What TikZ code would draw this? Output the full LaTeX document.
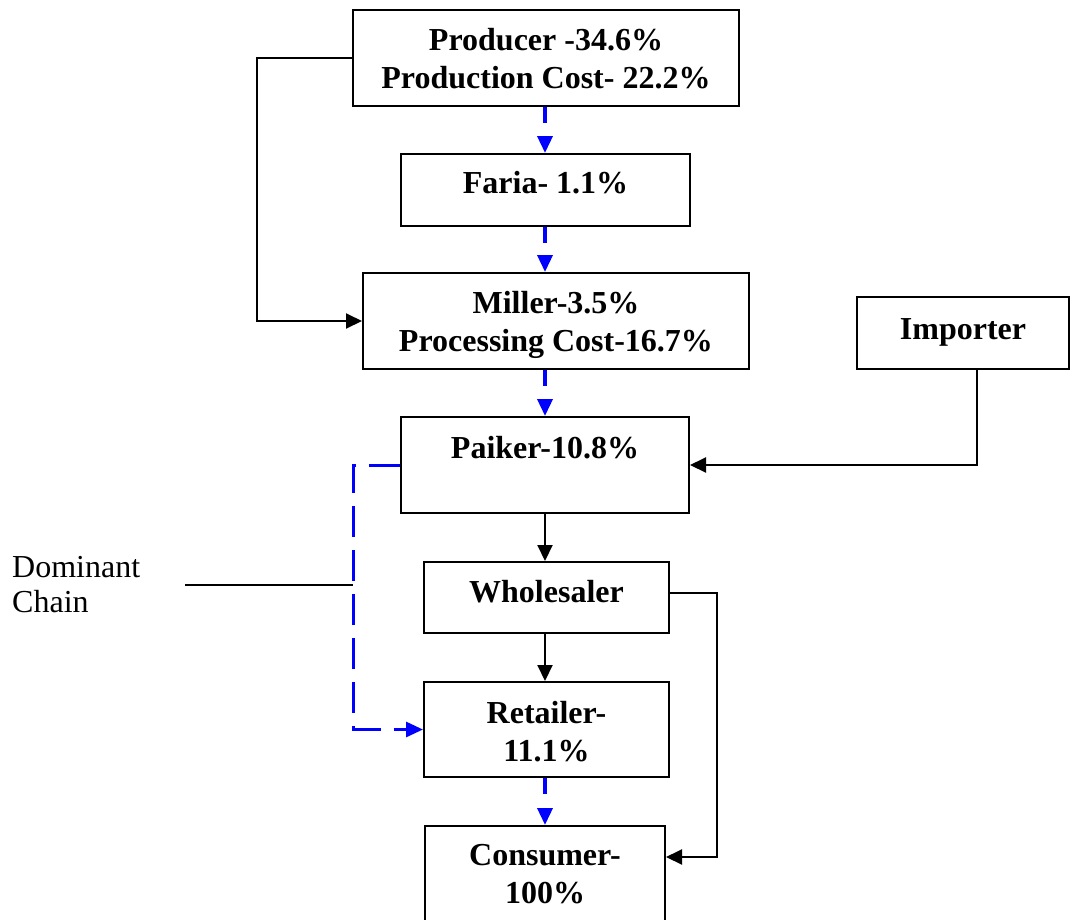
\documentclass[tikz,border=0pt]{standalone}
\usepackage{fontspec}
\setmainfont{Liberation Serif}
\usetikzlibrary{arrows.meta}
\definecolor{chainblue}{RGB}{0,0,255}
\tikzset{
  box/.style={draw=black, line width=2pt, rectangle, inner sep=0pt},
  lbl/.style={font=\fontsize{32}{38}\selectfont\bfseries, align=center, inner sep=0pt, anchor=base},
  note/.style={font=\fontsize{32}{35}\selectfont, align=left, inner sep=0pt, anchor=base west},
  flow/.style={draw=black, line width=2pt, -{Triangle[length=16pt,width=15pt]}},
  link/.style={draw=black, line width=1.6pt},
  chain/.style={draw=chainblue, line width=3.5pt, dash pattern=on 16pt off 15pt, -{Triangle[length=17pt,width=15pt]}},
  longchain/.style={draw=chainblue, line width=3pt, dash pattern=on 31pt off 13pt, -{Triangle[length=17pt,width=15pt]}},
}
\begin{document}
\begin{tikzpicture}[x=1pt,y=-1pt]
\useasboundingbox (0,0) rectangle (1071,919);

% boxes of the marketing chain
\node[box, minimum width=386pt, minimum height=96pt] (prod)   at (546,58)    {};
\node[box, minimum width=289pt, minimum height=72pt] (faria)  at (545.5,190) {};
\node[box, minimum width=386pt, minimum height=96pt] (miller) at (556,321)   {};
\node[box, minimum width=212pt, minimum height=72pt] (imp)    at (963,333)   {};
\node[box, minimum width=288pt, minimum height=96pt] (paiker) at (545,465)   {};
\node[box, minimum width=245pt, minimum height=71pt] (whole)  at (546.5,597.5) {};
\node[box, minimum width=245pt, minimum height=95pt] (retail) at (546.5,729.5) {};
\node[box, minimum width=240pt, minimum height=96pt] (cons)   at (545,874)   {};

% box texts (base anchor sits on the last line)
\node[lbl] (prodtxt)   at (546,88)    {Producer -34.6\%\\Production Cost- 22.2\%};
\node[lbl] (fariatxt)  at (545.5,193) {Faria- 1.1\%};
\node[lbl] (millertxt) at (556,351)   {Miller-3.5\%\\Processing Cost-16.7\%};
\node[lbl] (imptxt)    at (963,339)   {Importer};
\node[lbl] (paikertxt) at (545,458)   {Paiker-10.8\%};
\node[lbl] (wholetxt)  at (546.5,602) {Wholesaler};
\node[lbl] (retailtxt) at (546.5,761) {Retailer-\\11.1\%};
\node[lbl] (constxt)   at (545,903)   {Consumer-\\100\%};

% side note
\node[note] (note) at (12,612) {Dominant\\Chain};

% helper coordinates
\coordinate (axis)    at (545,0);
\coordinate (bypass)  at (257,0);
\coordinate (impdrop) at (977,0);
\coordinate (side)    at (717,0);
\coordinate (loop)    at (353,0);
\coordinate (noteend) at (185,585);
\coordinate (notetip) at (353,585);

% dominant chain (blue dashed)
\draw[chain] (prod.south -| axis)   -- (faria.north -| axis);
\draw[chain] (faria.south -| axis)  -- (miller.north -| axis);
\draw[chain] (miller.south -| axis) -- (paiker.north -| axis);
\draw[chain] (retail.south -| axis) -- (cons.north -| axis);
\draw[longchain] (paiker.west) -- (paiker.west -| loop) -- (retail.west -| loop) -- (retail.west);

% other flows
\draw[flow] (paiker.south -| axis) -- (whole.north -| axis);
\draw[flow] (whole.south -| axis)  -- (retail.north -| axis);
\draw[flow] (prod.west) -- (prod.west -| bypass) -- (miller.west -| bypass) -- (miller.west);
\draw[flow] (imp.south -| impdrop) |- (paiker.east);
\draw[flow] ([yshift=4.5pt]whole.east) -- ([yshift=4.5pt]whole.east -| side)
            -- ([yshift=17pt]cons.east -| side) -- ([yshift=17pt]cons.east);

% pointer of the side note
\draw[link] (noteend) -- (notetip);
\end{tikzpicture}
\end{document}
